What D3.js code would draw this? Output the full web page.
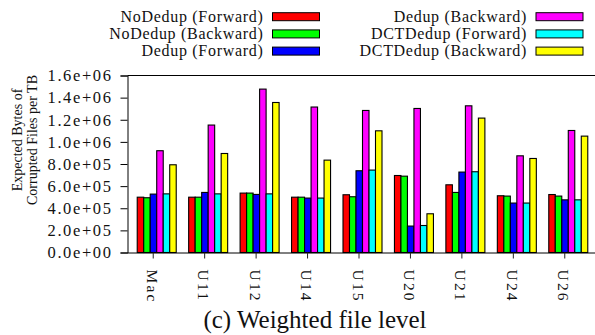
<!DOCTYPE html>
<html>
<head>
<meta charset="utf-8">
<script src="https://cdn.jsdelivr.net/npm/d3@7"></script>
<style>
  body { margin: 0; background: #fff; }
</style>
</head>
<body>
<div id="chart"></div>
<script>
const categories = ["Mac", "U11", "U12", "U14", "U15", "U20", "U21", "U24", "U26"];

const series = [
  "NoDedup (Forward)", "NoDedup (Backward)", "Dedup (Forward)",
  "Dedup (Backward)", "DCTDedup (Forward)", "DCTDedup (Backward)"
];

const colors = ["#ff0000", "#00ff00", "#0000ff", "#ff00ff", "#00ffff", "#ffff00"];

const nodedup_fwd = [5.0e5, 5.0e5, 5.37e5, 5.0e5, 5.22e5, 6.96e5, 6.12e5, 5.13e5, 5.24e5];
const nodedup_bwd = [4.95e5, 5.0e5, 5.37e5, 5.0e5, 5.04e5, 6.9e5, 5.43e5, 5.1e5, 5.1e5];
const dedup_fwd   = [5.28e5, 5.43e5, 5.25e5, 4.92e5, 7.39e5, 2.39e5, 7.27e5, 4.47e5, 4.76e5];
const dedup_bwd   = [9.2e5, 1.152e6, 1.477e6, 1.315e6, 1.284e6, 1.302e6, 1.326e6, 8.74e5, 1.103e6];
const dct_fwd     = [5.3e5, 5.3e5, 5.3e5, 4.92e5, 7.45e5, 2.44e5, 7.3e5, 4.47e5, 4.76e5];
const dct_bwd     = [7.93e5, 8.95e5, 1.356e6, 8.35e5, 1.10e6, 3.5e5, 1.215e6, 8.5e5, 1.052e6];

const values = [nodedup_fwd, nodedup_bwd, dedup_fwd, dedup_bwd, dct_fwd, dct_bwd];

const yTicks = [0, 2e5, 4e5, 6e5, 8e5, 1.0e6, 1.2e6, 1.4e6, 1.6e6];

const W = 595, H = 335;
const plot = { left: 127.5, right: 590.5, top: 75.5, bottom: 252.5 };
const FONT = '"Liberation Serif", "Times New Roman", Times, serif';

const svg = d3.select("#chart").append("svg")
      .attr("width", W)
      .attr("height", H)
      .style("display", "block");

const x = d3.scaleBand()
      .domain(categories)
      .range([plot.left, plot.right]);

// bars in each cluster sit a bit to the right of the tick, like gnuplot does
const x1 = d3.scaleBand()
      .domain(series)
      .range([-16, 23]);

const y = d3.scaleLinear()
      .domain([0, 1.6e6])
      .range([plot.bottom, plot.top]);

const fmt = v => {
  const [m, e] = v.toExponential(1).split("e");
  return m + "e" + e[0] + e.slice(1).padStart(2, "0");
};

// bars
const groups = svg.append("g")
      .selectAll("g")
      .data(categories)
      .enter().append("g")
      .attr("transform", c => `translate(${x(c) + x.bandwidth() / 2},0)`);

groups.selectAll("rect")
  .data((c, i) => series.map((s, j) => ({ s: s, v: values[j][i], color: colors[j] })))
  .enter().append("rect")
  .attr("x", d => x1(d.s))
  .attr("y", d => y(d.v))
  .attr("width", x1.bandwidth())
  .attr("height", d => y(0) - y(d.v))
  .attr("fill", d => d.color)
  .attr("stroke", "#000")
  .attr("stroke-width", 1.1);

// y axis
const yAxis = svg.append("g")
      .attr("transform", `translate(${plot.left},0)`)
      .call(d3.axisLeft(y).tickValues(yTicks).tickFormat(fmt).tickSize(7).tickPadding(8))
      .attr("font-family", FONT);

yAxis.select(".domain").attr("stroke", "#000");
yAxis.selectAll("text")
  .attr("font-size", 16.5)
  .style("letter-spacing", "1.6px")
  .attr("fill", "#111");

// x axis
const xAxis = svg.append("g")
      .attr("transform", `translate(0,${plot.bottom})`)
      .call(d3.axisBottom(x).tickSize(6).tickSizeOuter(0))
      .attr("font-family", FONT);

xAxis.select(".domain").attr("d", `M${plot.left},0.5H${W}`);
xAxis.selectAll(".tick line").attr("stroke", "#222");
xAxis.selectAll("text")
  .attr("font-size", 15.5)
  .style("letter-spacing", "2.2px")
  .attr("fill", "#111")
  .attr("text-anchor", "start")
  .attr("dy", "0.35em")
  .attr("y", 0)
  .attr("transform", "translate(-1,17) rotate(90)");

// top border (the right one is cut off by the page)
svg.append("line")
  .attr("x1", plot.left).attr("x2", W)
  .attr("y1", plot.top).attr("y2", plot.top)
  .attr("stroke", "#000");

// y label
const ylab = svg.append("text")
      .attr("transform", `translate(0,140) rotate(-90)`)
      .attr("text-anchor", "middle")
      .attr("font-family", FONT)
      .attr("font-size", 14)
      .attr("fill", "#111");
ylab.append("tspan").attr("x", 0).attr("y", 22).text("Expected Bytes of");
ylab.append("tspan").attr("x", 0).attr("y", 37).text("Corrupted Files per TB");

// legend, two columns of three
const legend = svg.append("g")
      .attr("font-family", FONT)
      .selectAll("g")
      .data(series)
      .enter().append("g")
      .attr("transform", (s, i) => {
        const col = Math.floor(i / 3), row = i % 3;
        return `translate(${col ? 527 : 263.5},${16.7 + row * 17.2})`;
      });

legend.append("text")
  .attr("text-anchor", "end")
  .attr("y", 5)
  .attr("font-size", 16)
  .style("letter-spacing", "0.7px")
  .attr("fill", "#111")
  .text(s => s);

legend.append("rect")
  .attr("x", 9)
  .attr("y", -4)
  .attr("width", 47)
  .attr("height", 8)
  .attr("fill", (s, i) => colors[i])
  .attr("stroke", "#000");

// caption
svg.append("text")
  .attr("x", 315)
  .attr("y", 328)
  .attr("text-anchor", "middle")
  .attr("font-family", FONT)
  .attr("font-size", 25)
  .attr("fill", "#111")
  .text("(c) Weighted file level");
</script>
</body>
</html>
